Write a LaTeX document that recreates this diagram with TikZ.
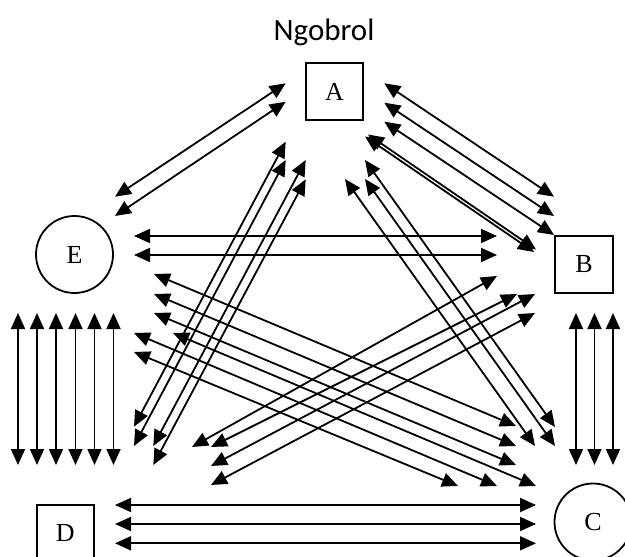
\documentclass[tikz,border=0pt]{standalone}
\usepackage{fontspec}
\setmainfont{Liberation Serif}
\newfontfamily\titlefont{Carlito}
\usetikzlibrary{arrows.meta}

\begin{document}
\begin{tikzpicture}[x=1pt,y=-1pt,
  link/.style={line width=1.8pt,
    {Triangle[length=16pt,width=14pt]}-{Triangle[length=16pt,width=14pt]}},
  boxnode/.style={draw, line width=1.8pt, minimum width=57pt, minimum height=57pt,
    inner sep=0pt, font=\fontsize{26}{30}\selectfont},
  roundnode/.style={draw, circle, line width=1.8pt, minimum size=77pt,
    inner sep=0pt, font=\fontsize{26}{30}\selectfont}]
\useasboundingbox (0,0) rectangle (625,557);
\clip (0,0) rectangle (625,557);

% heading
\node[font=\titlefont\fontsize{31}{36}\selectfont, anchor=base] (title) at (324,40) {Ngobrol};

% participants
\node[boxnode] (A) at (334.5,91.5) {A};
\node[boxnode, minimum width=58pt] (B) at (584,264.5) {B};
\node[roundnode] (C) at (593,522) {C};
\node[boxnode] (D) at (65.3,533.5) {D};
\node[roundnode] (E) at (74.5,254.5) {E};

% two-way links between the participants
\foreach \i/\ax/\ay/\bx/\by in {
  ae1/285.7/83.3/115/196.7,
  ae2/285.7/101.7/115/216,
  ab1/384.3/83.3/554/196.7,
  ab2/384.3/102.7/554/216,
  ab3/384.3/121.7/554/235,
  ab4/365/136.5/534/252,
  ab5/368/134.5/536/249.5,
  eb1/134/236/497/236,
  eb2/134/255/497/255,
  ad1/285.7/141.7/134/426.7,
  ad2/285.7/160/134/446,
  ad3/305.7/160/153.3/446,
  ad4/305.7/179.3/153.3/465,
  ac1/345/179/535/446,
  ac2/365/160/555/427,
  ac3/365/179/555/446,
  ec1/154/274/516/426,
  ec2/154/294/516/446,
  ec3/154/313/516/465,
  ec4/134/333/497/486,
  ec5/173/333/536/486,
  ec6/134/352/458/486,
  db1/192/447/497/276,
  db2/211/447/517/294,
  db3/211/466/535/294,
  db4/211/485/535/313,
  ed1/18/313/18/465,
  ed2/37/313/37/465,
  ed3/56/313/56/465,
  ed4/75.5/313/75.5/465,
  ed5/94.5/313/94.5/465,
  ed6/113.5/313/113.5/465,
  bc1/576/313/576/465,
  bc2/594.5/313/594.5/465,
  bc3/613/313/613/465,
  dc1/115/505/536/505,
  dc2/115/524/536/524,
  dc3/115/543.3/536/543.3}
{
  \coordinate (\i-s) at (\ax,\ay);
  \coordinate (\i-t) at (\bx,\by);
  \draw[link] (\i-s) -- (\i-t);
}
\end{tikzpicture}
\end{document}
